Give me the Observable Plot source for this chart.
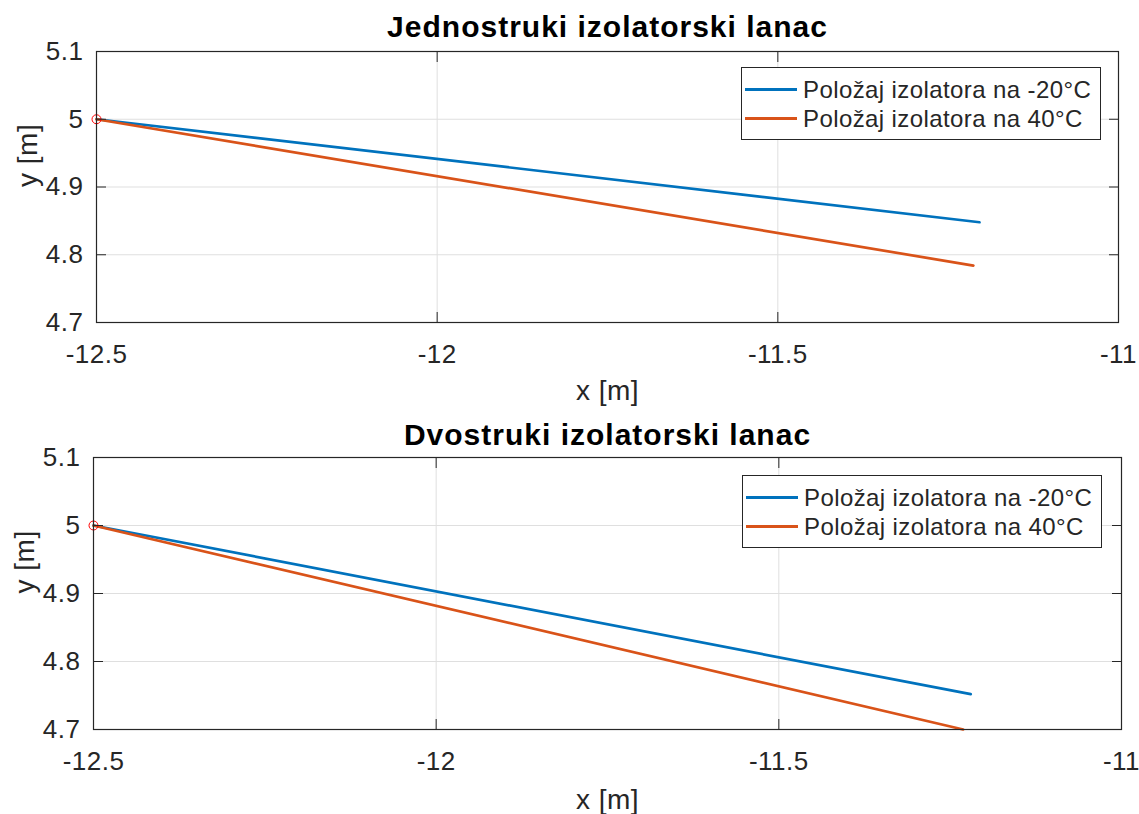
<!DOCTYPE html>
<html>
<head>
<meta charset="utf-8">
<script src="https://cdn.jsdelivr.net/npm/d3@7"></script>
<script src="https://cdn.jsdelivr.net/npm/@observablehq/plot@0.6"></script>
<style>
  body { margin: 0; background: #fff; }
  #wrap { position: relative; width: 1139px; height: 814px; background: #fff; font-family: "Liberation Sans", Arial, sans-serif; }
  #wrap svg { display: block; }
  #wrap svg text { letter-spacing: 0.5px; }
  #wrap svg g[font-weight="bold"] text { letter-spacing: 1px; }
  .legend { position: absolute; box-sizing: border-box; border: 1px solid #262626; background: #fff; padding-top: 7px; font-size: 24px; letter-spacing: 0.4px; color: #262626; }
  .legend .row { display: flex; align-items: center; height: 29px; }
  .legend .sw { margin-left: 3px; width: 52px; height: 3px; }
  .legend .lb { margin-left: 6px; white-space: nowrap; }
</style>
</head>
<body>
<div id="wrap"></div>
<script>
// ---- data ----
const seriesNames = ["Položaj izolatora na -20°C", "Položaj izolatora na 40°C"];
const seriesColors = ["#0072BD", "#D95319"];
const titles = ["Jednostruki izolatorski lanac", "Dvostruki izolatorski lanac"];
const xTicks = [-12.5, -12, -11.5, -11];
const yTicks = [4.7, 4.8, 4.9, 5.0, 5.1];
const xDomain = [-12.5, -11];
const yDomain = [4.7, 5.1];
const suspensionPoint = [-12.5, 5.0];

// single insulator string
const singleColdX = [-12.5, -11.204];
const singleColdY = [5.0, 4.848];
const singleHotX = [-12.5, -11.213];
const singleHotY = [5.0, 4.784];
// double insulator string
const doubleColdX = [-12.5, -11.22];
const doubleColdY = [5.0, 4.752];
const doubleHotX = [-12.5, -11.231];
const doubleHotY = [5.0, 4.700];

const fmt = d => String(+(+d).toFixed(2));
const font = '"Liberation Sans", Arial, sans-serif';

function panel(title, lines, m) {
  const data = [];
  lines.forEach((ln, k) => ln.x.forEach((x, i) => data.push({x, y: ln.y[i], series: seriesNames[k]})));
  return Plot.plot({
    width: 1139, height: m.height,
    marginTop: m.top, marginBottom: m.bottom, marginLeft: m.left, marginRight: m.right,
    style: {fontFamily: font, fontSize: "26px", color: "#262626", background: "white", overflow: "visible"},
    x: {domain: xDomain, label: null},
    y: {domain: yDomain, label: null},
    color: {domain: seriesNames, range: seriesColors},
    marks: [
      Plot.gridX(xTicks, {stroke: "#dfdfdf", strokeOpacity: 1}),
      Plot.gridY(yTicks, {stroke: "#dfdfdf", strokeOpacity: 1}),
      Plot.line(data, {x: "x", y: "y", z: "series", stroke: "series", strokeWidth: 2.7}),
      Plot.dot([suspensionPoint], {x: d => d[0], y: d => d[1], r: 4.5, stroke: "#ff0000", strokeWidth: 1, fill: "none"}),
      Plot.frame({stroke: "#262626", strokeWidth: 1.2}),
      Plot.axisX(xTicks, {anchor: "bottom", tickSize: 0, tickPadding: 22, tickFormat: fmt, label: null, fill: "#262626", fontSize: 26}),
      Plot.axisX(xTicks, {anchor: "bottom", tickSize: -10, fill: "none", label: null, stroke: "#262626"}),
      Plot.axisX(xTicks, {anchor: "top", tickSize: -10, fill: "none", label: null, stroke: "#262626"}),
      Plot.axisY(yTicks, {anchor: "left", tickSize: 0, tickPadding: 13, tickFormat: fmt, label: null, fill: "#262626", fontSize: 26}),
      Plot.axisY(yTicks, {anchor: "left", tickSize: -10, fill: "none", label: null, stroke: "#262626"}),
      Plot.axisY(yTicks, {anchor: "right", tickSize: -10, fill: "none", label: null, stroke: "#262626"}),
      Plot.text([title], {text: d => d, frameAnchor: "top", lineAnchor: "middle", dy: m.titleDy, fontWeight: "bold", fontSize: 30, fill: "#000"}),
      Plot.text(["x [m]"], {text: d => d, frameAnchor: "bottom", lineAnchor: "middle", dy: m.xLabelDy, fontSize: 28, fill: "#262626"}),
      Plot.text(["y [m]"], {text: d => d, frameAnchor: "left", lineAnchor: "middle", dx: -68, rotate: -90, fontSize: 28, fill: "#262626"})
    ]
  });
}

function legend(left, top) {
  const div = document.createElement("div");
  div.className = "legend";
  div.style.left = left + "px";
  div.style.top = top + "px";
  div.style.width = "360px";
  div.style.height = "73px";
  seriesNames.forEach((name, i) => {
    const row = document.createElement("div");
    row.className = "row";
    const sw = document.createElement("div");
    sw.className = "sw";
    sw.style.background = seriesColors[i];
    const lb = document.createElement("span");
    lb.className = "lb";
    lb.textContent = name;
    row.appendChild(sw); row.appendChild(lb);
    div.appendChild(row);
  });
  return div;
}

const wrap = document.getElementById("wrap");
wrap.appendChild(panel(titles[0],
  [{x: singleColdX, y: singleColdY}, {x: singleHotX, y: singleHotY}],
  {height: 410, top: 51, bottom: 88, left: 96, right: 21, titleDy: -24, xLabelDy: 69}));
wrap.appendChild(panel(titles[1],
  [{x: doubleColdX, y: doubleColdY}, {x: doubleHotX, y: doubleHotY}],
  {height: 404, top: 47, bottom: 85, left: 93, right: 18, titleDy: -22, xLabelDy: 71}));
wrap.appendChild(legend(741, 67));
wrap.appendChild(legend(742, 475));
</script>
</body>
</html>
